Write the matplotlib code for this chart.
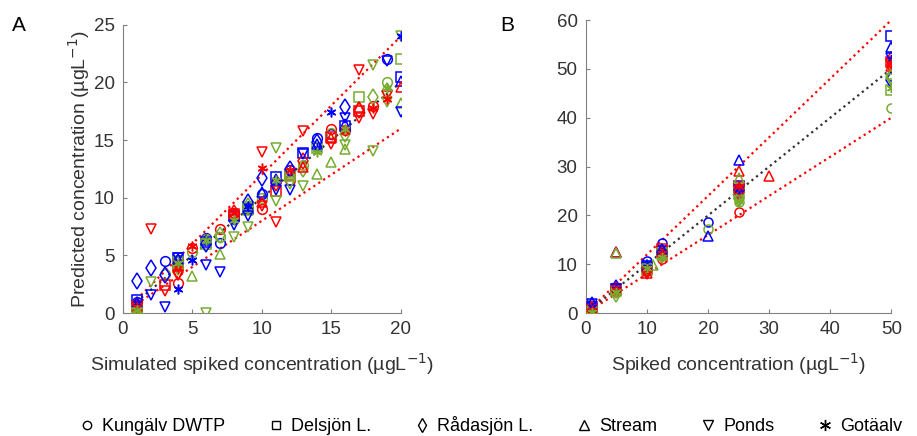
import numpy as np
import matplotlib
matplotlib.use('Agg')
from matplotlib import pyplot as plt
from matplotlib.lines import Line2D

plt.rcParams['font.family'] = ['Liberation Sans', 'DejaVu Sans']

sites = ['Kungälv DWTP', 'Delsjön L.', 'Rådasjön L.', 'Stream', 'Ponds', 'Gotäalv']
markers = ['o', 's', 'd', '^', 'v', (6, 2, 0)]
colors = {'blue': '#0000FF', 'red': '#FF0000', 'green': '#77AC30'}

# panel A: simulated spiked concentration -> predicted, per site and per colour
a_kungalv = {
    'blue': ([1, 3, 4, 6, 7, 8, 10, 12, 14, 15, 19], [1.0, 4.5, 4.6, 6.5, 6.1, 8.2, 10.3, 12.4, 15.2, 15.5, 22.0]),
    'red': ([1, 4, 5, 7, 8, 10, 12, 15, 16, 18], [0.5, 2.6, 5.6, 7.3, 8.7, 9.0, 11.5, 16.0, 15.9, 18.0]),
    'green': ([1, 3, 5, 6, 7, 9, 10, 13, 15, 19], [0.2, 3.4, 5.3, 6.4, 6.6, 9.1, 10.0, 12.8, 15.6, 20.0]),
}
a_delsjon = {
    'blue': ([1, 4, 6, 8, 9, 11, 13, 16, 20], [1.1, 4.8, 6.2, 8.4, 9.0, 11.8, 13.9, 16.2, 20.5]),
    'red': ([1, 3, 4, 8, 11, 12, 15, 17], [0.6, 2.4, 4.2, 8.6, 10.6, 12.0, 15.3, 17.5]),
    'green': ([1, 4, 6, 9, 12, 14, 17, 20], [0.3, 4.4, 6.0, 9.2, 11.9, 14.3, 18.7, 22.0]),
}
a_radasjon = {
    'blue': ([1, 2, 3, 6, 9, 10, 12, 14, 16], [2.8, 3.9, 3.3, 6.0, 9.6, 11.7, 12.5, 14.8, 17.9]),
    'red': ([1, 4, 8, 11, 13, 17], [0.7, 3.6, 8.7, 11.3, 13.2, 17.6]),
    'green': ([1, 4, 7, 9, 13, 16, 18, 19], [0.4, 4.0, 6.8, 9.3, 12.5, 15.5, 18.7, 19.3]),
}
a_stream = {
    'blue': ([1, 4, 6, 10, 11, 14, 16, 20], [1.0, 4.7, 6.3, 10.5, 11.6, 14.7, 16.4, 20.1]),
    'red': ([1, 4, 8, 10, 13, 15, 17, 20], [0.6, 4.1, 8.5, 9.6, 12.7, 15.2, 17.9, 19.6]),
    'green': ([1, 4, 5, 7, 9, 12, 14, 15, 16, 20], [0.2, 4.2, 3.2, 5.1, 8.9, 12.2, 12.1, 13.1, 14.2, 18.2]),
}
a_ponds = {
    'blue': ([2, 3, 4, 6, 7, 8, 9, 11, 12, 13, 16, 19, 20],
             [1.6, 0.5, 4.8, 4.2, 3.6, 7.6, 8.4, 10.7, 10.7, 13.8, 16.9, 21.9, 17.4]),
    'red': ([1, 2, 3, 4, 8, 10, 10, 11, 13, 15, 17, 17, 18, 19],
            [0.4, 7.3, 1.9, 3.3, 8.3, 14.0, 9.3, 7.9, 15.8, 14.7, 21.1, 16.9, 17.3, 18.8]),
    'green': ([1, 2, 6, 8, 9, 11, 11, 12, 13, 16, 18, 18, 19, 20],
              [0.0, 2.7, 0.0, 6.6, 7.5, 9.7, 14.3, 11.2, 11.0, 14.6, 14.1, 21.5, 18.3, 24.0]),
}
a_gotaalv = {
    'blue': ([1, 4, 5, 9, 14, 15, 20], [0.9, 2.1, 4.6, 9.3, 14.3, 17.4, 24.0]),
    'red': ([1, 4, 5, 8, 10, 12, 16, 18, 19], [0.5, 3.9, 5.8, 8.7, 12.6, 12.4, 15.8, 17.8, 18.6]),
    'green': ([1, 4, 6, 8, 11, 14, 16, 19], [0.3, 4.3, 6.3, 8.1, 11.5, 14.0, 16.0, 19.5]),
}

# panel B: spiked concentration -> predicted
b_kungalv = {
    'blue': ([1, 5, 10, 12.5, 20, 25, 50], [1.0, 5.0, 10.6, 14.4, 18.7, 25.5, 48.5]),
    'red': ([1, 5, 10, 12.5, 25, 50], [0.5, 4.6, 8.8, 11.0, 20.6, 50.8]),
    'green': ([1, 5, 10, 12.5, 20, 25, 50], [0.2, 4.3, 9.0, 11.6, 17.3, 22.8, 42.0]),
}
b_delsjon = {
    'blue': ([1, 5, 10, 12.5, 25, 50], [1.3, 4.9, 9.6, 12.8, 26.0, 56.8]),
    'red': ([1, 5, 10, 12.5, 25, 50], [0.8, 4.8, 9.0, 13.2, 25.8, 51.5]),
    'green': ([1, 5, 10, 12.5, 25, 50], [0.5, 4.5, 8.8, 12.2, 24.5, 45.7]),
}
b_radasjon = {
    'blue': ([1, 5, 10, 12.5, 25, 50], [1.5, 5.1, 9.3, 12.4, 25.2, 47.8]),
    'red': ([1, 5, 10, 12.5, 25, 50], [0.9, 4.7, 8.6, 12.0, 24.7, 51.8]),
    'green': ([1, 5, 10, 12.5, 25, 50], [0.3, 4.0, 9.2, 11.8, 23.4, 48.3]),
}
b_stream = {
    'blue': ([1, 5, 10, 12.5, 20, 25, 50], [2.3, 12.4, 9.8, 12.9, 15.7, 31.3, 54.4]),
    'red': ([1, 5, 10, 12.5, 25, 30, 50], [1.2, 12.6, 8.2, 12.4, 29.0, 28.0, 50.5]),
    'green': ([1, 5, 11, 12.5, 25, 50], [0.6, 12.3, 9.8, 11.9, 27.6, 49.0]),
}
b_ponds = {
    'blue': ([1, 5, 10, 25, 50], [1.8, 4.9, 9.4, 25.3, 52.2]),
    'red': ([1, 5, 10, 25, 50], [0.7, 4.5, 8.5, 25.0, 51.0]),
    'green': ([1, 5, 10, 25, 50], [0.4, 4.2, 9.0, 23.0, 48.0]),
}
b_gotaalv = {
    'blue': ([1, 5, 10, 12.5, 25, 50], [1.2, 5.0, 9.5, 12.6, 25.5, 52.0]),
    'red': ([1, 5, 10, 12.5, 25, 50], [0.6, 4.8, 9.0, 12.3, 26.0, 51.2]),
    'green': ([1, 5, 10, 12.5, 25, 50], [0.3, 4.4, 9.2, 11.5, 22.9, 46.0]),
}

data_a = [a_kungalv, a_delsjon, a_radasjon, a_stream, a_ponds, a_gotaalv]
data_b = [b_kungalv, b_delsjon, b_radasjon, b_stream, b_ponds, b_gotaalv]

# reference lines (1:1 and +/-20 %)
line_a = [1, 20]
line_b = [0, 50]


def style_axes(ax):
    for s in ['top', 'right']:
        ax.spines[s].set_visible(False)
    for s in ['left', 'bottom']:
        ax.spines[s].set_color('#808080')
    ax.tick_params(direction='in', length=3, labelsize=13.5, pad=6, colors='#808080',
                   labelcolor='#333333')


fig = plt.figure(figsize=(9.17, 4.36), dpi=100)
axA = fig.add_axes([0.134, 0.282, 0.303, 0.661])
axB = fig.add_axes([0.639, 0.282, 0.333, 0.672])

for ax, data, ln, ms in [(axA, data_a, line_a, 7), (axB, data_b, line_b, 6.5)]:
    xl = np.array(ln, dtype=float)
    ax.plot(xl, 1.2 * xl, ':', color='#FF0000', lw=1.6, zorder=1)
    ax.plot(xl, 0.8 * xl, ':', color='#FF0000', lw=1.6, zorder=1)
    ax.plot(xl, xl, ':', color='#333333', lw=1.6, zorder=1)
    for site, m in zip(data, markers):
        for cname, (xs, ys) in site.items():
            size = ms + 1.5 if m == 'd' else ms
            ax.plot(xs, ys, linestyle='none', marker=m, markersize=size,
                    markerfacecolor='none', markeredgecolor=colors[cname],
                    markeredgewidth=1.1, zorder=3)

axA.set_xlim(0, 20)
axA.set_ylim(0, 25)
axA.set_xticks([0, 5, 10, 15, 20])
axA.set_yticks([0, 5, 10, 15, 20, 25])
axB.set_xlim(0, 50)
axB.set_ylim(0, 60)
axB.set_xticks([0, 10, 20, 30, 40, 50])
axB.set_yticks([0, 10, 20, 30, 40, 50, 60])
style_axes(axA)
style_axes(axB)

axA.set_xlabel('Simulated spiked concentration (µgL$^{-1}$)', fontsize=14, color='#333333', labelpad=9)
axA.set_ylabel('Predicted concentration (µgL$^{-1}$)', fontsize=14, color='#333333', labelpad=1)
axB.set_xlabel('Spiked concentration (µgL$^{-1}$)', fontsize=14, color='#333333', labelpad=9)

fig.text(0.013, 0.93, 'A', fontsize=15)
fig.text(0.545, 0.93, 'B', fontsize=15)

handles = [Line2D([], [], linestyle='none', marker=m, markersize=7 if i < 5 else 8,
                  markerfacecolor='none', markeredgecolor='black', markeredgewidth=1)
           for i, m in enumerate(markers)]
handles[0].set_markersize(6)
handles[1].set_markersize(6)
handles[2].set_markersize(7.5)
fig.legend(handles, sites, loc='lower center', bbox_to_anchor=(0.535, -0.035), ncol=6,
           frameon=False, fontsize=13, handlelength=0.9, handletextpad=0.4, columnspacing=2.35)

fig.savefig('out.png', dpi=100)
